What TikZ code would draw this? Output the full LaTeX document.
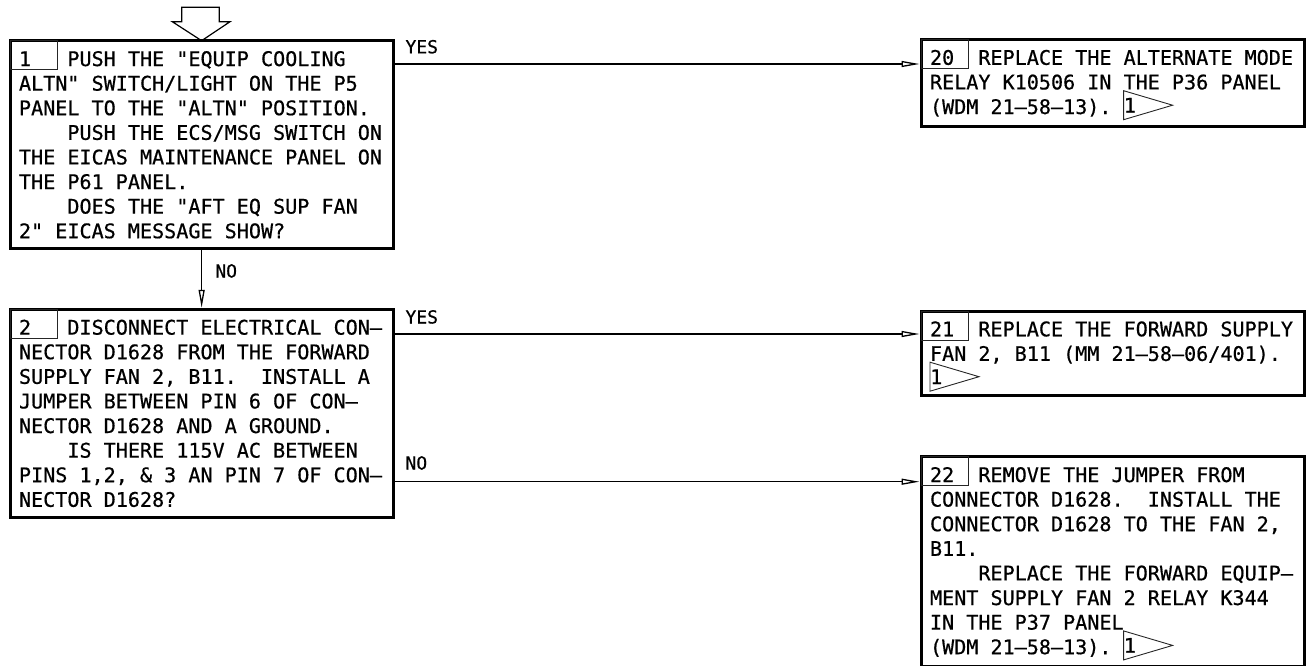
\documentclass[tikz,border=0pt]{standalone}
\usepackage{fontspec}
\newfontfamily\drawfont{DejaVu Sans Mono}[FakeBold=0.6]
\usepackage{tikz}
\usetikzlibrary{arrows.meta,positioning,calc}

\newcommand{\tabin}{\phantom{0000}}

\begin{document}
\frenchspacing
\begin{tikzpicture}[x=1pt, y=-1pt,
  stepbox/.style={draw, line width=3pt, rectangle, outer sep=0pt, inner xsep=9pt, inner ysep=0pt,
    text width=365.3pt, align=flush left, text height=25.3pt, anchor=north west,
    font=\drawfont\fontsize{20.1}{24.6}\selectfont},
  numbox/.style={draw=black!85, line width=0.9pt, minimum width=47.3pt, minimum height=29pt,
    inner sep=0pt, outer sep=0pt, anchor=north west},
  conn/.style={line width=1.3pt, -{Triangle[open,length=18pt,width=6pt]}, shorten >=1.5pt},
  lbl/.style={font=\drawfont\fontsize{18}{20}\selectfont, inner sep=0pt, anchor=base west},
  flagline/.style={line width=0.9pt, draw=black!85},
  flagnum/.style={font=\drawfont\fontsize{20.1}{24.6}\selectfont, inner sep=0pt, anchor=base west},
  entry/.style={line width=1.2pt, line join=miter}]
  \useasboundingbox (0,0) rectangle (1307,665);

  % Step 1
  \node[stepbox, text depth=182.3pt] (b1) at (10,40.7) {%
    1\phantom{000}PUSH THE "EQUIP COOLING\\
    ALTN" SWITCH/LIGHT ON THE P5\\
    PANEL TO THE "ALTN" POSITION.\\
    \tabin PUSH THE ECS/MSG SWITCH ON\\
    THE EICAS MAINTENANCE PANEL ON\\
    THE P61 PANEL.\\
    \tabin DOES THE "AFT EQ SUP FAN\\
    2" EICAS MESSAGE SHOW?};
  \node[numbox] (n1) at (b1.north west) {};

  % Step 2
  \node[stepbox, text depth=182.9pt] (b2) at (10,309.3) {%
    2\phantom{000}DISCONNECT ELECTRICAL CON–\\
    NECTOR D1628 FROM THE FORWARD\\
    SUPPLY FAN 2, B11.~ INSTALL A\\
    JUMPER BETWEEN PIN 6 OF CON–\\
    NECTOR D1628 AND A GROUND.\\
    \tabin IS THERE 115V AC BETWEEN\\
    PINS 1,2, \& 3 AN PIN 7 OF CON–\\
    NECTOR D1628?};
  \node[numbox] (n2) at (b2.north west) {};

  % Step 20
  \node[stepbox, text depth=61.9pt] (b20) at (921,39.5) {%
    20\phantom{00}REPLACE THE ALTERNATE MODE\\
    RELAY K10506 IN THE P36 PANEL\\
    (WDM 21–58–13).};
  \node[numbox] (n20) at (b20.north west) {};

  % Step 21
  \node[stepbox, text depth=58.7pt] (b21) at (921,311) {%
    21\phantom{00}REPLACE THE FORWARD SUPPLY\\
    FAN 2, B11 (MM 21–58–06/401).};
  \node[numbox] (n21) at (b21.north west) {};

  % Step 22
  \node[stepbox, text depth=184pt] (b22) at (921,456.7) {%
    22\phantom{00}REMOVE THE JUMPER FROM\\
    CONNECTOR D1628.~ INSTALL THE\\
    CONNECTOR D1628 TO THE FAN 2,\\
    B11.\\
    \tabin REPLACE THE FORWARD EQUIP–\\
    MENT SUPPLY FAN 2 RELAY K344\\
    IN THE P37 PANEL\\
    (WDM 21–58–13).};
  \node[numbox] (n22) at (b22.north west) {};

  % Entry arrow
  \draw[entry] (b1.north) -- ++(-29.35,-19) -- ++(9.4,0) -- ++(0,-14.4) -- ++(37.6,0)
    -- ++(0,14.4) -- ++(10.7,0) -- cycle;

  % Connectors
  \coordinate (r1) at (0,64);
  \coordinate (r2) at (0,334);
  \coordinate (r3) at (0,481.7);
  \draw[conn] (b1.east |- r1) -- (b20.west |- r1);
  \draw[conn] (b1.south) -- (b2.north);
  \draw[conn] (b2.east |- r2) -- (b21.west |- r2);
  \draw[conn] (b2.east |- r3) -- (b22.west |- r3);

  % Labels
  \node[lbl] (yes1) at ($(b1.east |- r1)+(12,-10.7)$) {YES};
  \node[lbl] (no1) at ($(b1.south)+(13.5,29.2)$) {NO};
  \node[lbl] (yes2) at ($(b2.east |- r2)+(12,-10.5)$) {YES};
  \node[lbl] (no2) at ($(b2.east |- r3)+(12,-12.2)$) {NO};

  % Note flags
  \coordinate (f20) at ($(b20.north west)+(202.6,65.7)$);
  \coordinate (f21) at ($(b21.north west)+(9,65.7)$);
  \coordinate (f22) at ($(b22.north west)+(202.6,188.7)$);
  \foreach \f in {f20,f21,f22} {
    \draw[flagline] (\f) -- ++(0,-14.5) -- ++(49,14.5) -- ++(-49,14.5) -- cycle;
    \node[flagnum] (\f d) at ([yshift=-7.3pt]\f) {1};
  }
\end{tikzpicture}
\end{document}
